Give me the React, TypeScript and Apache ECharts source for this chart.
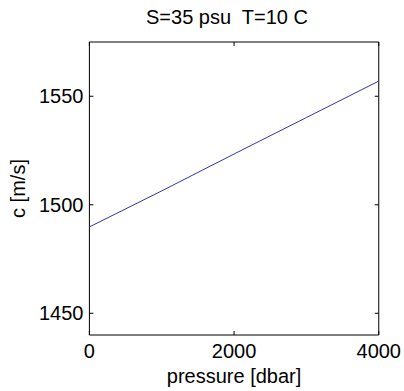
import React, { useEffect, useRef } from "react";
import * as echarts from "echarts";

const titleText = "S=35 psu  T=10 C";
const xName = "pressure [dbar]";
const yName = "c [m/s]";
const pressure = [0, 1000, 2000, 3000, 4000];
const soundSpeed = [1489.8, 1506.4, 1523.4, 1540.2, 1557.0];
const xRange = [0, 4000];
const yRange = [1440, 1575];
const xTicks = [0, 2000, 4000];
const yTicks = [1450, 1500, 1550];

const FONT = "'Liberation Sans', Arial, sans-serif";
const FS = 20;
const TICK = 4;

export default function App() {
  const ref = useRef<HTMLDivElement>(null);
  useEffect(() => {
    document.body.style.margin = "0";
    const chart = echarts.init(ref.current!, null, { renderer: "svg" });
    const fmt = (v: number) => String(v);
    const tickStyle = { stroke: "#000", lineWidth: 1 };
    chart.setOption({
      animation: false,
      backgroundColor: "#fff",
      title: {
        text: titleText,
        left: 146,
        top: 7,
        padding: 0,
        textStyle: { fontFamily: FONT, fontSize: FS, fontWeight: "normal", color: "#000" },
      },
      grid: {
        left: 88,
        right: 23,
        top: 42,
        bottom: 56,
        show: true,
        borderColor: "#000",
        borderWidth: 1,
        backgroundColor: "transparent",
      },
      xAxis: {
        type: "value",
        min: xRange[0],
        max: xRange[1],
        interval: 2000,
        name: xName,
        nameLocation: "middle",
        nameGap: 26,
        nameTextStyle: { fontFamily: FONT, fontSize: FS, color: "#000" },
        axisLine: { show: false },
        axisTick: { show: false },
        axisLabel: { fontFamily: FONT, fontSize: FS, color: "#000", margin: 6, formatter: fmt, customValues: xTicks },
        splitLine: { show: false },
      },
      yAxis: {
        type: "value",
        min: yRange[0],
        max: yRange[1],
        name: yName,
        nameLocation: "middle",
        nameRotate: 90,
        nameGap: 40,
        nameTextStyle: { fontFamily: FONT, fontSize: FS, color: "#000" },
        axisLine: { show: false },
        axisTick: { show: false },
        axisLabel: { fontFamily: FONT, fontSize: FS, color: "#000", margin: 6, formatter: fmt, customValues: yTicks },
        splitLine: { show: false },
      },
      series: [
        {
          type: "line",
          data: pressure.map((p, i) => [p, soundSpeed[i]]),
          showSymbol: false,
          lineStyle: { color: "#3535a8", width: 1 },
          z: 3,
        },
        {
          type: "custom",
          clip: false,
          silent: true,
          z: 4,
          data: xTicks.map((v) => [v, yRange[0]]),
          renderItem: (params: any, api: any) => {
            const v = api.value(0);
            const b = api.coord([v, yRange[0]]);
            const t = api.coord([v, yRange[1]]);
            return {
              type: "group",
              children: [
                { type: "line", shape: { x1: b[0], y1: b[1], x2: b[0], y2: b[1] - TICK }, style: tickStyle },
                { type: "line", shape: { x1: t[0], y1: t[1], x2: t[0], y2: t[1] + TICK }, style: tickStyle },
              ],
            };
          },
        },
        {
          type: "custom",
          clip: false,
          silent: true,
          z: 4,
          data: yTicks.map((v) => [xRange[0], v]),
          renderItem: (params: any, api: any) => {
            const v = api.value(1);
            const l = api.coord([xRange[0], v]);
            const r = api.coord([xRange[1], v]);
            return {
              type: "group",
              children: [
                { type: "line", shape: { x1: l[0], y1: l[1], x2: l[0] + TICK, y2: l[1] }, style: tickStyle },
                { type: "line", shape: { x1: r[0], y1: r[1], x2: r[0] - TICK, y2: r[1] }, style: tickStyle },
              ],
            };
          },
        },
      ],
    });
    return () => chart.dispose();
  }, []);
  return <div ref={ref} style={{ width: 404, height: 391 }} />;
}
